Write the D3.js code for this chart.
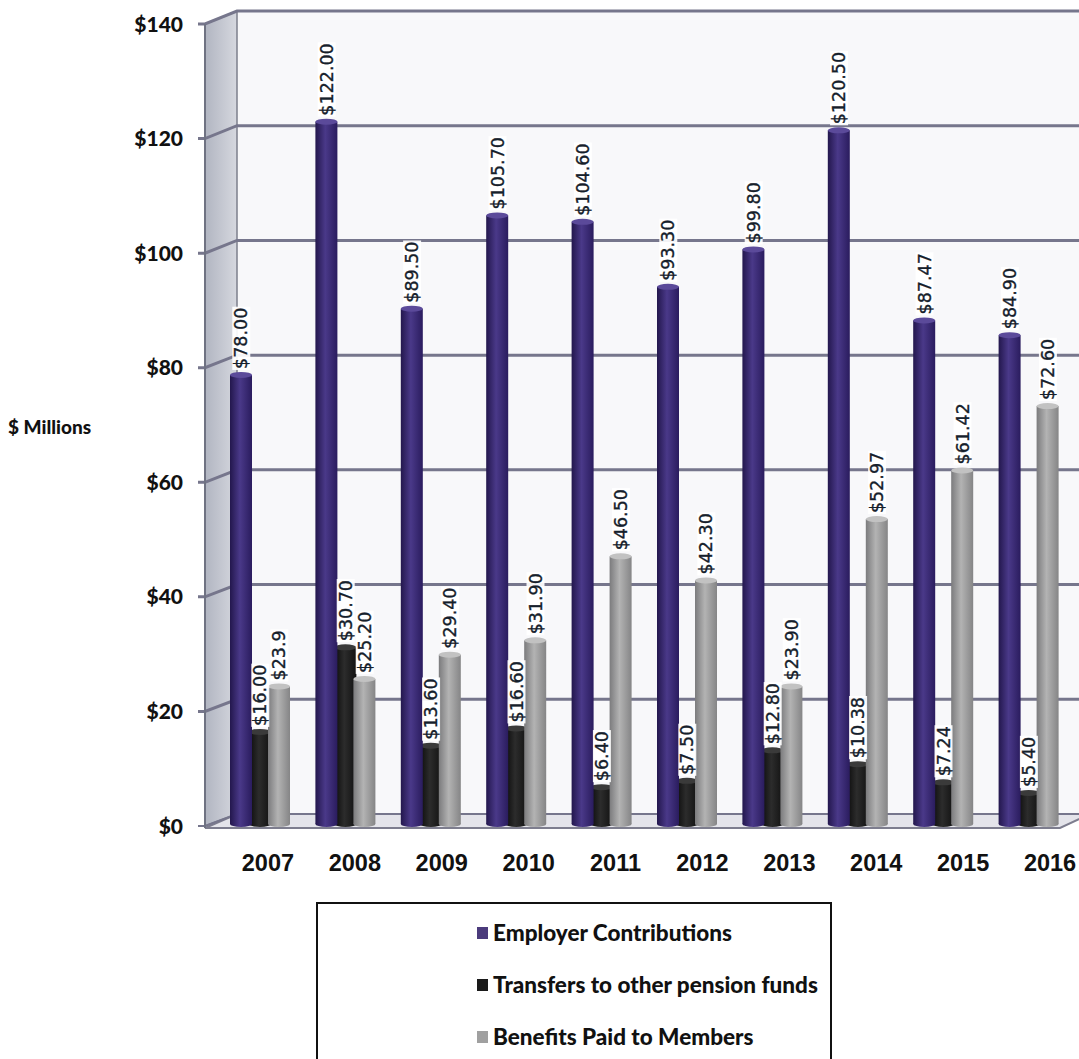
<!DOCTYPE html>
<html>
<head>
<meta charset="utf-8">
<script src="https://cdn.jsdelivr.net/npm/d3@7"></script>
<style>
  html, body { margin: 0; padding: 0; background: #ffffff; }
  svg { display: block; }
</style>
</head>
<body>
<svg id="chart" width="1079" height="1059"></svg>
<script>
// Pension fund cash flows, $ millions, by year
const years = ["2007", "2008", "2009", "2010", "2011", "2012", "2013", "2014", "2015", "2016"];
// Values kept as the printed figures so each label and its bar share one source
const employer  = ["78.00", "122.00", "89.50", "105.70", "104.60", "93.30", "99.80", "120.50", "87.47", "84.90"];
const transfers = ["16.00", "30.70", "13.60", "16.60", "6.40", "7.50", "12.80", "10.38", "7.24", "5.40"];
const benefits  = ["23.9", "25.20", "29.40", "31.90", "46.50", "42.30", "23.90", "52.97", "61.42", "72.60"];
const seriesNames = ["Employer Contributions", "Transfers to other pension funds", "Benefits Paid to Members"];
const yTicks = [0, 20, 40, 60, 80, 100, 120, 140];
const yTickLabels = ["$0", "$20", "$40", "$60", "$80", "$100", "$120", "$140"];
const axisTitle = "$ Millions";

const series = [
  { key: seriesNames[0], values: employer,  fill: ["#23174d", "#4a3989", "#2a1c5e"], cap: "#5b4a9a", legend: "#4b3b7c" },
  { key: seriesNames[1], values: transfers, fill: ["#0b0b0b", "#2c2c2c", "#111111"], cap: "#3a3a3a", legend: "#1a1a1a" },
  { key: seriesNames[2], values: benefits,  fill: ["#7b7b7d", "#b3b3b3", "#858586"], cap: "#c2c2c2", legend: "#a0a0a0" }
];

const svg = d3.select("#chart");
const defs = svg.append("defs");

// 3-D frame: side wall at the left, back wall behind the bars, front edge ticks
const frontX = 205, backX = 237;
const yFront = d3.scaleLinear().domain([0, 140]).range([826, 24]);
const yBack  = d3.scaleLinear().domain([0, 140]).range([814, 11]);
const yBar   = d3.scaleLinear().domain([0, 140]).range([824, 18]);

const xGroup = d3.scaleBand().domain(years).range([217, 1071]).padding(0);
const xSeries = d3.scaleBand().domain(seriesNames).range([13, 70]).padding(0);
const barW = xSeries.bandwidth() + 3;
const xYear = d3.scaleBand().domain(years).range([224.5, 1093.5]).padding(0);

// side wall gradient
const wallGrad = defs.append("linearGradient").attr("id", "sideWall")
  .attr("x1", "0").attr("x2", "1").attr("y1", "0").attr("y2", "0");
wallGrad.append("stop").attr("offset", "0%").attr("stop-color", "#b1b5c1");
wallGrad.append("stop").attr("offset", "100%").attr("stop-color", "#d6d8df");

// back wall
svg.append("rect")
  .attr("x", backX).attr("y", yBack(140))
  .attr("width", 1079 - backX).attr("height", yBack(0) - yBack(140))
  .attr("fill", "#f8f8fa");

// floor
svg.append("polygon")
  .attr("points", [
    [frontX, yFront(0) + 2], [1060, yFront(0) + 2], [1090, yBack(0)], [backX, yBack(0)]
  ].map(p => p.join(",")).join(" "))
  .attr("fill", "#e4e4ea").attr("stroke", "#7d7d8e").attr("stroke-width", 2);

// side wall
svg.append("polygon")
  .attr("points", [
    [frontX, yFront(140)], [backX, yBack(140)], [backX, yBack(0)], [frontX, yFront(0)]
  ].map(p => p.join(",")).join(" "))
  .attr("fill", "url(#sideWall)").attr("stroke", "#7c7f8c").attr("stroke-width", 1.5);

// gridlines: across the side wall then along the back wall
const grid = svg.append("g").attr("stroke", "#76768c").attr("fill", "none");
yTicks.forEach(v => {
  grid.append("path")
    .attr("d", `M${frontX - 7},${yFront(v)} L${frontX},${yFront(v)} L${backX},${yBack(v)} L1079,${yBack(v)}`)
    .attr("stroke-width", v === 0 ? 2 : 3);
});

// front vertical edge
svg.append("line")
  .attr("x1", frontX).attr("x2", frontX)
  .attr("y1", yFront(140)).attr("y2", yFront(0) + 2)
  .attr("stroke", "#6f7282").attr("stroke-width", 2);

// y tick labels
svg.append("g").selectAll("text").data(yTicks).join("text")
  .attr("x", 183).attr("y", d => yFront(d))
  .attr("dy", "0.36em")
  .attr("text-anchor", "end")
  .attr("font-family", "Lato, 'Open Sans', sans-serif")
  .attr("font-weight", 900).attr("font-size", 21)
  .attr("fill", "#111")
  .text((d, i) => yTickLabels[i]);

// axis title
svg.append("text")
  .attr("x", 8).attr("y", 427).attr("dy", "0.36em")
  .attr("font-family", "Lato, 'Open Sans', sans-serif")
  .attr("font-weight", 900).attr("font-size", 19)
  .attr("fill", "#111")
  .text(axisTitle);

// cylinder shading for each series
series.forEach((s, i) => {
  const g = defs.append("linearGradient").attr("id", "bar" + i)
    .attr("x1", "0").attr("x2", "1").attr("y1", "0").attr("y2", "0");
  g.append("stop").attr("offset", "0%").attr("stop-color", s.fill[0]);
  g.append("stop").attr("offset", "45%").attr("stop-color", s.fill[1]);
  g.append("stop").attr("offset", "100%").attr("stop-color", s.fill[2]);
});

// bars: transfers drawn first so the neighbouring cylinders sit in front of it
const drawOrder = [1, 0, 2];
const barsG = svg.append("g");
drawOrder.forEach(si => {
  const s = series[si];
  const rows = years.map((yr, j) => ({ year: yr, value: +s.values[j] }));
  const g = barsG.append("g");
  const left = d => xGroup(d.year) + xSeries(s.key);
  g.selectAll("rect").data(rows).join("rect")
    .attr("x", left)
    .attr("y", d => yBar(d.value))
    .attr("width", barW)
    .attr("height", d => yBar(0) - yBar(d.value))
    .attr("fill", `url(#bar${si})`);
  // bottom rounding
  g.selectAll("ellipse.bottom").data(rows).join("ellipse")
    .attr("class", "bottom")
    .attr("cx", d => left(d) + barW / 2).attr("cy", yBar(0))
    .attr("rx", barW / 2).attr("ry", 3)
    .attr("fill", `url(#bar${si})`);
  // top cap
  g.selectAll("ellipse.cap").data(rows).join("ellipse")
    .attr("class", "cap")
    .attr("cx", d => left(d) + barW / 2).attr("cy", d => yBar(d.value))
    .attr("rx", barW / 2).attr("ry", 3)
    .attr("fill", s.cap);
});

// value labels, rotated, with a light backing
const labelsG = svg.append("g");
[0, 1, 2].forEach(si => {
  const s = series[si];
  years.forEach((yr, j) => {
    const v = +s.values[j];
    const cx = xGroup(yr) + xSeries(s.key) + barW / 2;
    const lg = labelsG.append("g")
      .attr("transform", `translate(${cx},${yBar(v) - 6}) rotate(-90)`);
    const bg = lg.append("rect").attr("fill", "#ffffff").attr("opacity", 0.92);
    const t = lg.append("text")
      .attr("x", 0).attr("y", 0).attr("dy", "0.36em")
      .attr("font-family", "'DejaVu Sans', sans-serif")
      .attr("font-size", 17.5)
      .attr("fill", "#15202b")
      .attr("stroke", "#15202b").attr("stroke-width", 0.35)
      .text("$" + s.values[j]);
    const bb = t.node().getBBox();
    bg.attr("x", bb.x - 1).attr("y", bb.y + 1).attr("width", bb.width + 2).attr("height", bb.height - 2);
  });
});

// year labels along the front edge
svg.append("g").selectAll("text").data(years).join("text")
  .attr("x", d => xYear(d) + xYear.bandwidth() / 2)
  .attr("y", 871)
  .attr("text-anchor", "middle")
  .attr("font-family", "'Liberation Sans', Arial, sans-serif")
  .attr("font-weight", 700).attr("font-size", 23.5)
  .attr("fill", "#111")
  .text(d => d);

// legend
const legend = svg.append("g");
legend.append("rect")
  .attr("x", 317).attr("y", 903).attr("width", 514).attr("height", 170)
  .attr("fill", "#ffffff").attr("stroke", "#111").attr("stroke-width", 2);
const legendY = d3.scalePoint().domain(seriesNames).range([933, 1037]);
series.forEach(s => {
  legend.append("rect")
    .attr("x", 477).attr("y", legendY(s.key) - 6)
    .attr("width", 11).attr("height", 12)
    .attr("fill", s.legend);
  legend.append("text")
    .attr("x", 493).attr("y", legendY(s.key)).attr("dy", "0.36em")
    .attr("font-family", "Lato, 'Open Sans', sans-serif")
    .attr("font-weight", 900).attr("font-size", 22.5)
    .attr("fill", "#111")
    .text(s.key);
});
</script>
</body>
</html>
